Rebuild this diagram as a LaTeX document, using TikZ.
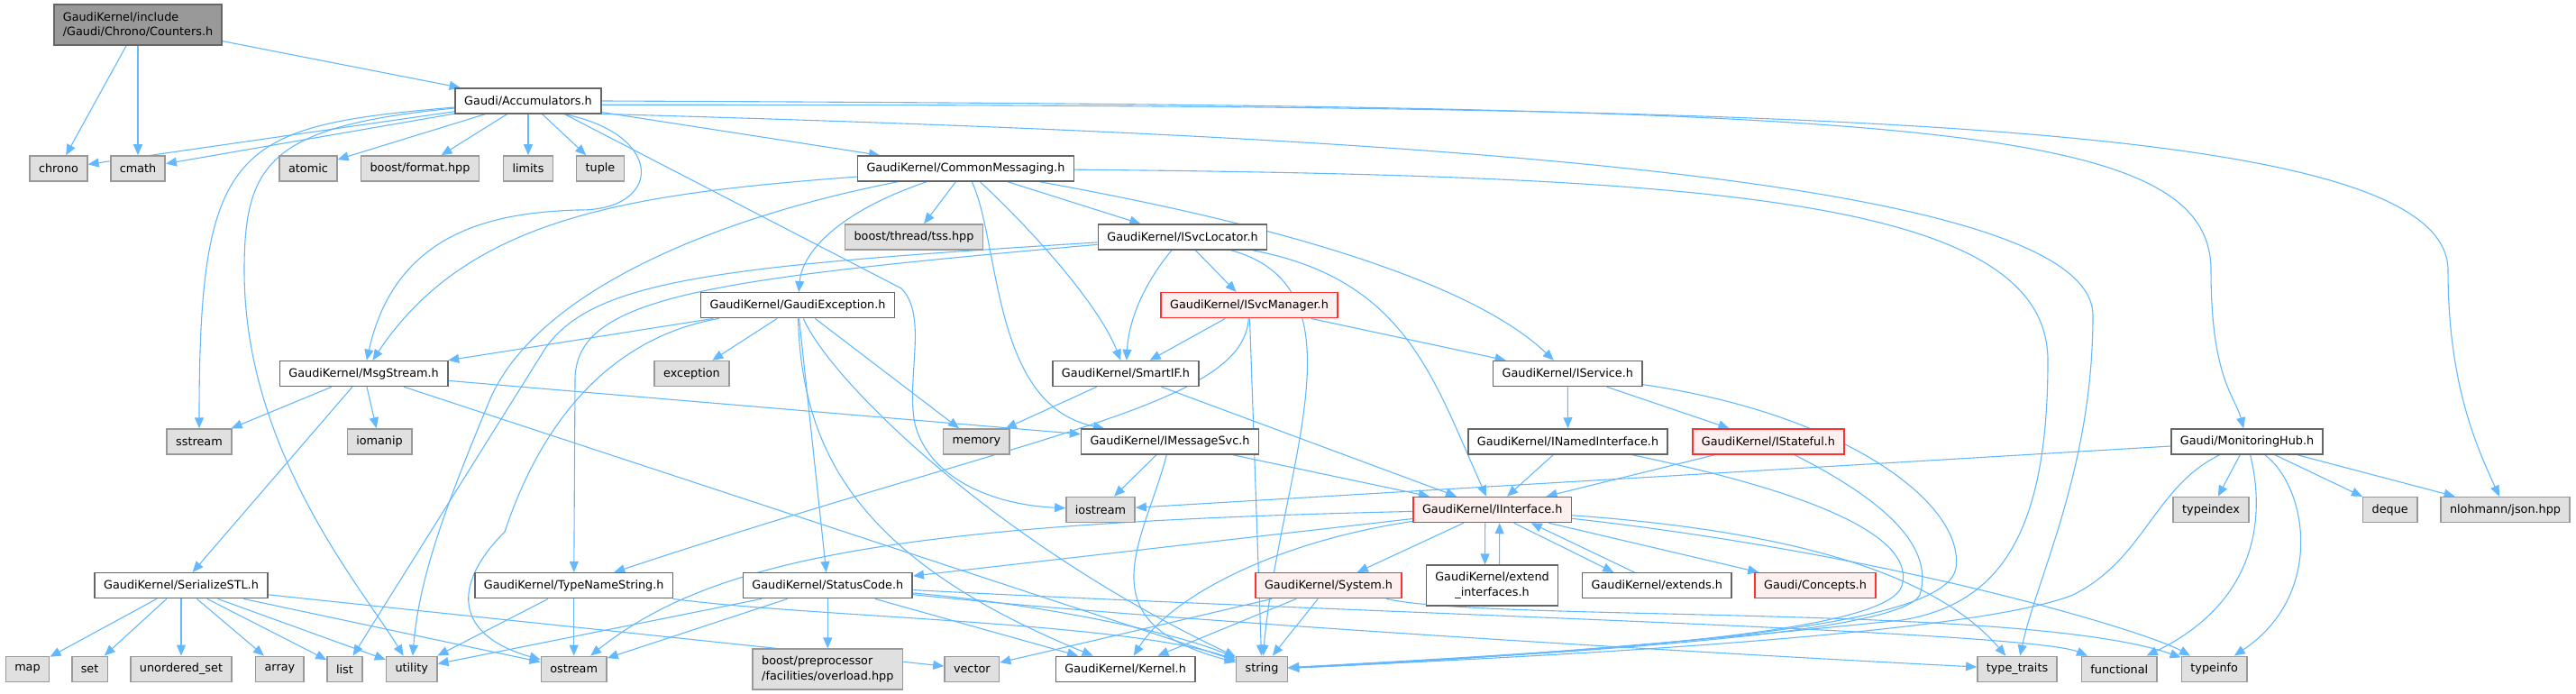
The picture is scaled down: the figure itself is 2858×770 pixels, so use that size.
\documentclass[tikz,border=0pt]{standalone}
\usepackage{fontspec}
\setmainfont{DejaVu Sans}
\usetikzlibrary{arrows.meta}
\definecolor{edgeblue}{HTML}{63B8FF}
\definecolor{boxline}{HTML}{666666}
\definecolor{sysline}{HTML}{999999}
\definecolor{sysfill}{HTML}{E0E0E0}
\definecolor{rootfill}{HTML}{999999}
\definecolor{truncline}{HTML}{FF3030}
\definecolor{truncfill}{HTML}{FFF0F0}
\newcommand{\dxfont}{\fontsize{12.8}{16.7}\selectfont}
\pgfdeclarelayer{edges}
\pgfsetlayers{edges,main}
\tikzset{
	file/.style={draw=boxline, fill=white, line width=1.5pt, minimum height=28pt, inner xsep=10pt, inner ysep=2pt, font=\dxfont},
	sysfile/.style={file, draw=sysline, fill=sysfill},
	trunc/.style={file, draw=truncline, fill=truncfill},
	root/.style={file, fill=rootfill},
	twoline/.style={minimum height=45pt},
	dep/.style={-{Triangle[length=12pt,width=10pt]}, color=edgeblue, line width=1.1pt},
}
\begin{document}
\begin{tikzpicture}[x=1pt,y=-1pt]
		\useasboundingbox (0,0) rectangle (2858,770);
		\node[root, twoline, align=left] at (153,27.3)(counters){GaudiKernel/include\\/Gaudi/Chrono/Counters.h};
		\node[file] at (586,112)(accum){Gaudi/Accumulators.h};
		\node[sysfile] at (65,187)(chrono){chrono};
		\node[sysfile] at (153,187)(cmath){cmath};
		\node[sysfile] at (342,187)(atomic){atomic};
		\node[sysfile] at (466,187)(bformat){boost/format.hpp};
		\node[sysfile] at (586,187)(limits){limits};
		\node[sysfile] at (666,187)(tuple){tuple};
		\node[file] at (1071.5,187)(commsg){GaudiKernel/CommonMessaging.h};
		\node[sysfile] at (1014,263)(tss){boost/thread/tss.hpp};
		\node[file] at (1312,263)(isvcloc){GaudiKernel/ISvcLocator.h};
		\node[file] at (885,338.7)(gexc){GaudiKernel/GaudiException.h};
		\node[trunc] at (1386,338.7)(isvcman){GaudiKernel/ISvcManager.h};
		\node[file] at (403.6,414.5)(msgstream){GaudiKernel/MsgStream.h};
		\node[sysfile] at (767.5,414.5)(exception){exception};
		\node[file] at (1249,414.5)(smartif){GaudiKernel/SmartIF.h};
		\node[file] at (1739.3,414.5)(iservice){GaudiKernel/IService.h};
		\node[sysfile] at (221,490)(sstream){sstream};
		\node[sysfile] at (421,490)(iomanip){iomanip};
		\node[sysfile] at (1083.4,490)(memory){memory};
		\node[file] at (1298,490)(imsgsvc){GaudiKernel/IMessageSvc.h};
		\node[file] at (1739.5,490)(inamed){GaudiKernel/INamedInterface.h};
		\node[trunc] at (1962,490)(istateful){GaudiKernel/IStateful.h};
		\node[file] at (2493,490)(monhub){Gaudi/MonitoringHub.h};
		\node[sysfile] at (1221,565.5)(iostream){iostream};
		\node[trunc] at (1655.7,565.5)(iinterface){GaudiKernel/IInterface.h};
		\node[sysfile] at (2453,565.5)(typeindex){typeindex};
		\node[sysfile] at (2651.7,565.5)(deque){deque};
		\node[sysfile] at (2779.5,565.5)(json){nlohmann/json.hpp};
		\node[file] at (201,649.7)(serial){GaudiKernel/SerializeSTL.h};
		\node[file] at (636.7,649.7)(typename){GaudiKernel/TypeNameString.h};
		\node[file] at (918.3,649.7)(statuscode){GaudiKernel/StatusCode.h};
		\node[trunc] at (1474,649.7)(system){GaudiKernel/System.h};
		\node[file, twoline, align=center] at (1655.5,649.7)(extint){GaudiKernel/extend\\\_interfaces.h};
		\node[file] at (1838.3,649.7)(extends){GaudiKernel/extends.h};
		\node[trunc] at (2014,649.7)(concepts){Gaudi/Concepts.h};
		\node[sysfile] at (30.5,742.3)(map){map};
		\node[sysfile] at (99.6,742.3)(set){set};
		\node[sysfile] at (201,742.3)(uset){unordered\_set};
		\node[sysfile] at (310.4,742.3)(array){array};
		\node[sysfile] at (382.4,742.3)(list){list};
		\node[sysfile] at (456.7,742.3)(utility){utility};
		\node[sysfile] at (636.7,742.3)(ostream){ostream};
		\node[sysfile, twoline, align=left] at (918.3,742.7)(bpp){boost/preprocessor\\/facilities/overload.hpp};
		\node[sysfile] at (1078.3,742.3)(vector){vector};
		\node[file] at (1248.6,742.3)(kernel){GaudiKernel/Kernel.h};
		\node[sysfile] at (1400,742.3)(string){string};
		\node[sysfile] at (2238,742.3)(typetraits){type\_traits};
		\node[sysfile] at (2351.3,742.3)(functional){functional};
		\node[sysfile] at (2456.7,742.3)(typeinfo){typeinfo};

		\begin{pgfonlayer}{edges}
		\path[dep] (counters) edge (chrono) (counters) edge (cmath) (counters) edge (accum);
		\path[dep] (accum) edge (chrono) (accum) edge (cmath) (accum) edge (atomic) (accum) edge (bformat)
			(accum) edge (limits) (accum) edge (tuple) (accum) edge (commsg);
		\draw[dep] (accum) .. controls (260,140) and (221,160) .. (sstream);
		\draw[dep] (accum) .. controls (300,140) and (271,180) .. (271,300) .. controls (271,500) and (400,650) .. (utility);
		\draw[dep] (accum.-20) .. controls (740,150) and (735,235) .. (640,233) .. controls (560,236) and (440,250) .. (msgstream);
		\draw[dep] (accum.-20) -- (1000,320) .. controls (1030,350) and (1005,420) .. (1015,470) .. controls (1030,530) and (1100,560) .. (iostream);
		\draw[dep] (accum.east) .. controls (2100,118) and (2453,130) .. (2453,300) .. controls (2453,420) and (2480,440) .. (monhub);
		\draw[dep] (accum.-3) .. controls (2000,116) and (2716,130) .. (2716,300) .. controls (2716,430) and (2750,500) .. (json);
		\draw[dep] (accum.-10) .. controls (1500,150) and (2322,190) .. (2322,350) .. controls (2322,520) and (2260,640) .. (typetraits);

		\path[dep] (commsg) edge (tss) (commsg) edge (isvcloc);
		\draw[dep] (commsg) .. controls (700,215) and (520,240) .. (msgstream);
		\draw[dep] (commsg) .. controls (800,240) and (600,320) .. (545,440) .. controls (495,560) and (465,640) .. (utility);
		\draw[dep] (commsg) .. controls (930,235) and (890,280) .. (gexc);
		\draw[dep] (commsg) .. controls (1110,270) and (1100,450) .. (imsgsvc);
		\draw[dep] (commsg) .. controls (1150,260) and (1220,340) .. (smartif);
		\draw[dep] (commsg) .. controls (1450,255) and (1640,320) .. (iservice);
		\draw[dep] (commsg) .. controls (1900,195) and (2272,220) .. (2272,400) .. controls (2272,590) and (2220,670) .. (2110,688) .. controls (1900,710) and (1600,735) .. (string);

		\path[dep] (isvcloc) edge (isvcman);
		\draw[dep] (isvcloc) .. controls (1265,320) and (1252,360) .. (smartif);
		\draw[dep] (isvcloc) .. controls (780,310) and (640,330) .. (638,420) -- (typename);
		\draw[dep] (isvcloc) .. controls (800,295) and (660,310) .. (606,385) -- (list);
		\draw[dep] (isvcloc) .. controls (1560,310) and (1590,420) .. (iinterface);
		\draw[dep] (isvcloc) .. controls (1520,320) and (1420,520) .. (string);

		\path[dep] (isvcman) edge (smartif) (isvcman) edge (string) (isvcman) edge (iservice);
		\draw[dep] (isvcman) .. controls (1380,450) and (1150,480) .. (typename);

		\path[dep] (gexc) edge (msgstream) (gexc) edge (exception) (gexc) edge (statuscode) (gexc) edge (memory);
		\draw[dep] (gexc) .. controls (700,370) and (610,440) .. (560,590) .. controls (500,650) and (505,705) .. (ostream);
		\draw[dep] (gexc) .. controls (890,500) and (950,620) .. (kernel);
		\draw[dep] (gexc) .. controls (920,420) and (1100,600) .. (string);

		\path[dep] (msgstream) edge (sstream) (msgstream) edge (iomanip) (msgstream) edge (serial)
			(msgstream) edge (imsgsvc) (msgstream) edge (string);
		\path[dep] (smartif) edge (memory) (smartif) edge (iinterface);
		\path[dep] (imsgsvc) edge (iostream) (imsgsvc) edge (iinterface);
		\draw[dep] (imsgsvc) .. controls (1270,600) and (1200,690) .. (string);

		\path[dep] (iservice) edge (inamed) (iservice) edge (istateful);
		\draw[dep] (iservice) .. controls (2050,460) and (2180,560) .. (2170,630) .. controls (2160,700) and (1800,720) .. (string);
		\path[dep] (inamed) edge (iinterface);
		\draw[dep] (inamed) .. controls (2030,550) and (2125,600) .. (2110,650) .. controls (2095,700) and (1800,722) .. (string);
		\path[dep] (istateful) edge (iinterface);
		\draw[dep] (istateful) .. controls (2100,560) and (2145,610) .. (2130,660) .. controls (2110,700) and (1800,722) .. (string);

		\path[dep] (monhub) edge (iostream) (monhub) edge (typeindex) (monhub) edge (deque) (monhub) edge (json);
		\draw[dep] (monhub) .. controls (2515,580) and (2500,670) .. (functional);
		\draw[dep] (monhub) .. controls (2560,540) and (2580,660) .. (typeinfo);
		\draw[dep] (monhub) .. controls (2390,540) and (2380,620) .. (2300,660) .. controls (2200,700) and (1800,725) .. (string);

		\path[dep] (iinterface) edge (system) (iinterface) edge (concepts) (iinterface) edge (statuscode);
		\draw[dep] ([xshift=-8pt]iinterface.south) -- ([xshift=-8pt]extint.north);
		\draw[dep] ([xshift=8pt]extint.north) -- ([xshift=8pt]iinterface.south);
		\draw[dep] ([xshift=24pt]iinterface.south) -- ([xshift=-48pt]extends.north);
		\draw[dep] ([xshift=-25pt]extends.north) -- ([xshift=43pt]iinterface.south);
		\draw[dep] (iinterface) .. controls (1000,580) and (790,620) .. (ostream);
		\draw[dep] (iinterface) .. controls (1420,600) and (1300,660) .. (kernel);
		\draw[dep] (iinterface) .. controls (2000,590) and (2150,640) .. (typetraits);
		\draw[dep] (iinterface) .. controls (2100,615) and (2380,700) .. (typeinfo);

		\path[dep] (system) edge (string) (system) edge (vector) (system) edge (kernel);
		\draw[dep] (system) .. controls (1650,690) and (2250,670) .. (typeinfo);

		\path[dep] (statuscode) edge (kernel) (statuscode) edge (bpp) (statuscode) edge (ostream) (statuscode) edge (utility);
		\draw[dep] (statuscode) .. controls (1150,670) and (1300,700) .. (string);
		\draw[dep] (statuscode) .. controls (1500,680) and (2250,700) .. (functional);
		\draw[dep] (statuscode) .. controls (1300,690) and (1900,725) .. (typetraits);

		\path[dep] (serial) edge (map) (serial) edge (set) (serial) edge (uset) (serial) edge (array)
			(serial) edge (list) (serial) edge (utility) (serial) edge (ostream) (serial) edge (vector);
		\path[dep] (typename) edge (utility) (typename) edge (ostream);
		\draw[dep] (typename) .. controls (900,685) and (1250,690) .. (string);
		\end{pgfonlayer}
	\end{tikzpicture}
\end{document}
